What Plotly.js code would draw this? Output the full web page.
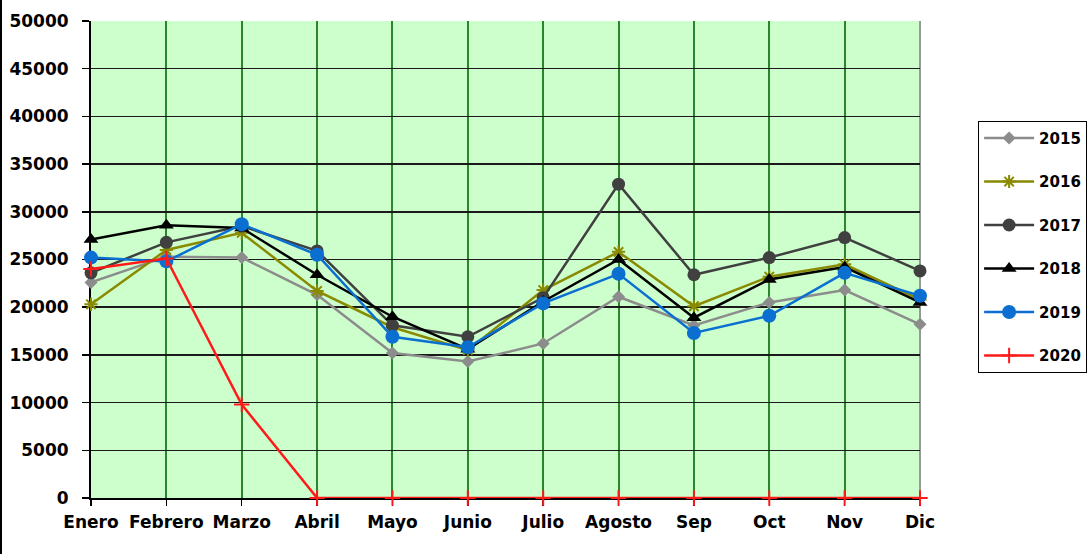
<!DOCTYPE html>
<html>
<head>
<meta charset="utf-8">
<script src="https://cdn.plot.ly/plotly-3.0.1.min.js"></script>
<style>
html,body{margin:0;padding:0;background:#fff;}
#wrap{position:relative;width:1088px;height:554px;}
#chart{width:1088px;height:554px;}
#edge{position:absolute;left:0;top:0;width:2px;height:554px;background:#000;}
</style>
</head>
<body>
<div id="wrap"><div id="chart"></div><div id="edge"></div></div>
<script>
const months = ["Enero","Febrero","Marzo","Abril","Mayo","Junio","Julio","Agosto","Sep","Oct","Nov","Dic"];
const y2015 = [22600, 25300, 25200, 21300, 15200, 14300, 16200, 21100, 18100, 20500, 21800, 18200];
const y2016 = [20300, 26000, 27800, 21700, 17900, 15500, 21800, 25800, 20100, 23200, 24500, 20800];
const y2017 = [23600, 26800, 28500, 25900, 18100, 16900, 21000, 32900, 23400, 25200, 27300, 23800];
const y2018 = [27100, 28600, 28300, 23400, 19000, 15600, 20600, 25000, 18900, 22900, 24200, 20500];
const y2019 = [25200, 24800, 28700, 25500, 16900, 15800, 20400, 23500, 17300, 19100, 23600, 21200];
const y2020 = [24000, 25100, 9800, 0, 0, 0, 0, 0, 0, 0, 0, 0];
const yTicks = [0,5000,10000,15000,20000,25000,30000,35000,40000,45000,50000];

const FONT = 'DejaVu Sans, Liberation Sans, Arial, sans-serif';

function tr(name, y, color, symbol, size, lineColor, mlw) {
  return {
    type: 'scatter', mode: 'lines+markers', name: name, x: months, y: y,
    legendgroup: name, cliponaxis: false,
    line: {color: color, width: 2.5},
    marker: {symbol: symbol, size: size, color: color, line: {color: lineColor || color, width: mlw || 0}}
  };
}

const data = [
  tr('2015', y2015, '#8c8c8c', 'diamond', 10),
  tr('2016', y2016, '#8a8a00', 'asterisk-open', 11, '#8a8a00', 2),
  tr('2017', y2017, '#404040', 'circle', 13),
  tr('2018', y2018, '#000000', 'triangle-up', 13),
  tr('2019', y2019, '#0a6fd1', 'circle', 14),
  tr('2020', y2020, '#ff1a1a', 'cross-thin-open', 11, '#ff1a1a', 2)
];

const layout = {
  width: 1088, height: 554,
  margin: {l: 91, r: 168, t: 21, b: 56},
  paper_bgcolor: '#ffffff',
  plot_bgcolor: '#ccffcc',
  font: {family: FONT, size: 16, color: '#000'},
  xaxis: {
    type: 'category', range: [0, 11], categoryarray: months,
    showgrid: true, gridcolor: '#2a862a', gridwidth: 2,
    showline: true, linecolor: '#000', linewidth: 2, layer: 'below traces',
    ticks: 'outside', ticklen: 6, tickcolor: '#000', tickwidth: 1.5,
    ticklabelstandoff: 2,
    tickfont: {family: FONT, size: 17, color: '#000', weight: 'bold'},
    fixedrange: true, zeroline: false
  },
  yaxis: {
    range: [0, 50000], tickvals: yTicks, ticktext: yTicks.map(String),
    showgrid: true, gridcolor: '#1a1a1a', gridwidth: 1.5,
    showline: true, linecolor: '#000', linewidth: 2, layer: 'below traces',
    ticks: 'outside', ticklen: 7, tickcolor: '#000', tickwidth: 1.5,
    ticklabelstandoff: 10,
    tickfont: {family: FONT, size: 17, color: '#000', weight: 'bold'},
    zeroline: false, fixedrange: true
  },
  shapes: [
    {type: 'line', xref: 'paper', yref: 'paper', x0: 1, x1: 1, y0: 0, y1: 1, layer: 'below', line: {color: '#999', width: 2}}
  ],
  showlegend: true,
  legend: {
    xref: 'container', yref: 'container',
    x: 0.899, xanchor: 'left', y: 0.782, yanchor: 'top',
    bgcolor: '#fff', bordercolor: '#000', borderwidth: 1,
    font: {family: FONT, size: 15, color: '#000', weight: 'bold'},
    tracegroupgap: 21, itemwidth: 50
  }
};

Plotly.newPlot('chart', data, layout, {displayModeBar: false, staticPlot: true});
</script>
</body>
</html>
